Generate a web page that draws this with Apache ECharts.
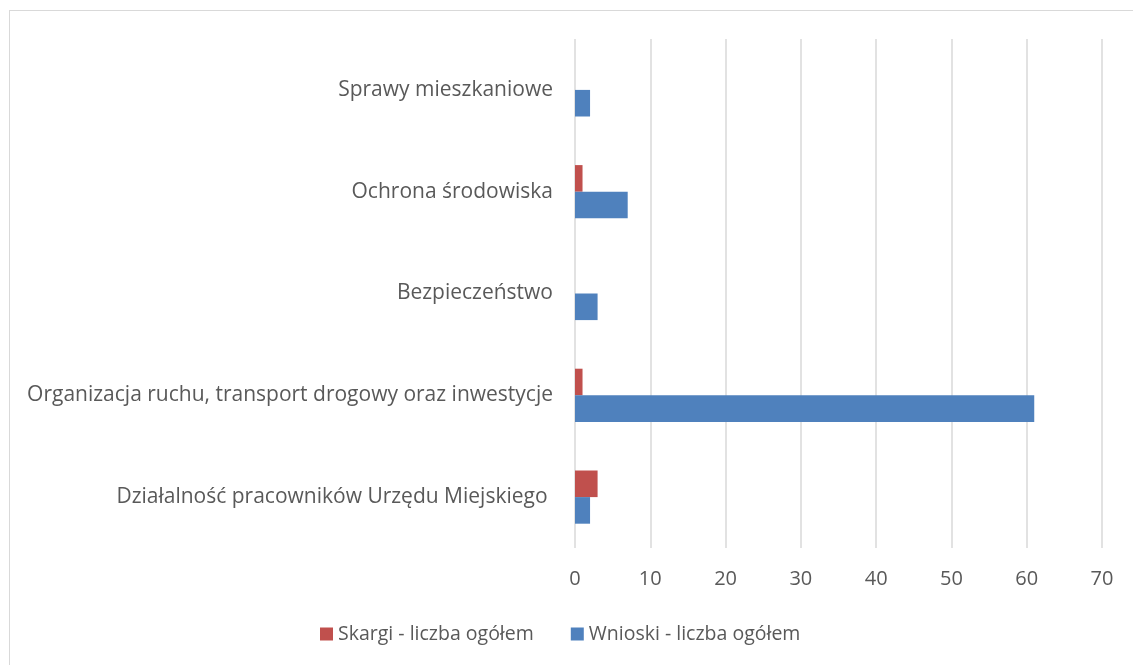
<!DOCTYPE html>
<html>
<head>
<meta charset="utf-8">
<script src="https://cdn.jsdelivr.net/npm/echarts@6/dist/echarts.min.js"></script>
<style>
  html, body { margin: 0; padding: 0; background: #fff; overflow: hidden; }
  #frame { position: absolute; left: 9px; top: 10px; width: 1140px; height: 670px; border: 1px solid #d9d9d9; box-sizing: border-box; }
  #chart { position: absolute; left: 0; top: 0; width: 1133px; height: 665px; }
</style>
</head>
<body>
<div id="frame"></div>
<div id="chart"></div>
<script>
// kategorie od dołu do góry
const categories = [
  'Działalność pracowników Urzędu Miejskiego ',
  'Organizacja ruchu, transport drogowy oraz inwestycje',
  'Bezpieczeństwo',
  'Ochrona środowiska',
  'Sprawy mieszkaniowe'
];
const skargi = [3, 1, 0, 1, 0];
const wnioski = [2, 61, 3, 7, 2];
const xTicks = [0, 10, 20, 30, 40, 50, 60, 70];

const textColor = '#595959';
const fontFamily = '"Open Sans", "Noto Sans", sans-serif';

let myChart = echarts.init(document.getElementById('chart'));
let chartOptions = {
  animation: false,
  textStyle: { fontFamily: fontFamily },
  grid: { left: 575, right: 31, top: 39, bottom: 117, containLabel: false },
  legend: {
    data: ['Skargi - liczba ogółem', 'Wnioski - liczba ogółem'],
    top: 619,
    left: 315,
    itemWidth: 13,
    itemHeight: 13,
    itemGap: 37,
    icon: 'rect',
    textStyle: { color: textColor, fontSize: 19.5, fontFamily: fontFamily }
  },
  xAxis: {
    type: 'value',
    min: xTicks[0],
    max: xTicks[xTicks.length - 1],
    interval: 10,
    axisLine: { show: false },
    axisTick: { show: false },
    axisLabel: { color: textColor, fontSize: 20, margin: 21 },
    splitLine: { show: true, lineStyle: { color: '#d9d9d9', width: 1.5 } }
  },
  yAxis: {
    type: 'category',
    data: categories,
    axisLine: { show: false },
    axisTick: { show: false },
    axisLabel: { color: textColor, fontSize: 21, margin: 22 }
  },
  series: [
    {
      name: 'Skargi - liczba ogółem',
      type: 'bar',
      data: skargi,
      barWidth: 26.6,
      barGap: '0%',
      itemStyle: { color: '#c0504d' }
    },
    {
      name: 'Wnioski - liczba ogółem',
      type: 'bar',
      data: wnioski,
      barWidth: 26.6,
      barGap: '0%',
      itemStyle: { color: '#4f81bd' }
    }
  ]
};
myChart.setOption(chartOptions, true);
window.addEventListener('resize', myChart.resize);
</script>
</body>
</html>
